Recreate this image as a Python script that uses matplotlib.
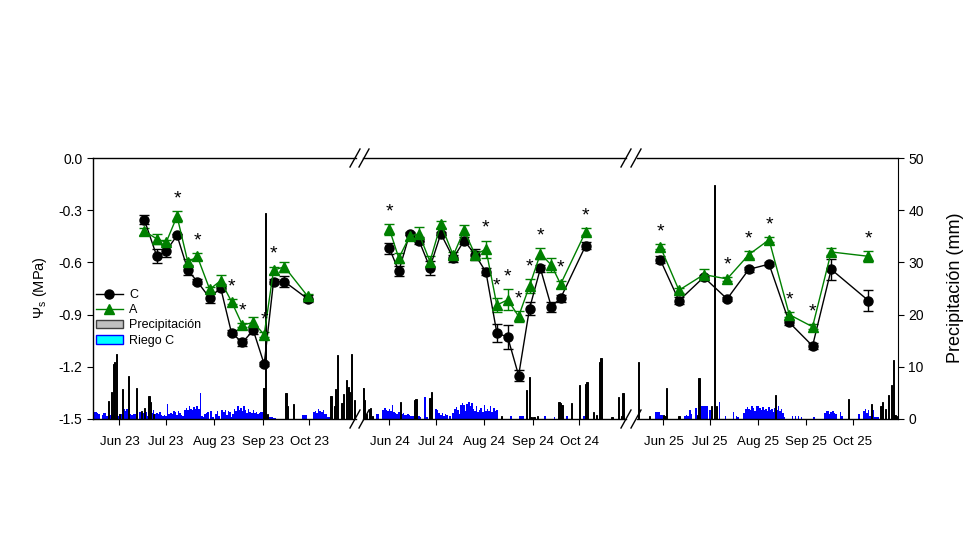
import numpy as np
import pandas as pd
import matplotlib
matplotlib.use("Agg")
import matplotlib.pyplot as plt
import matplotlib.dates as mdates
from matplotlib.lines import Line2D
from matplotlib.patches import Patch

plt.rcParams['font.family'] = ['Liberation Sans', 'DejaVu Sans']
plt.rcParams['axes.unicode_minus'] = False

# ---------------- data ----------------
# Psi_s sampling dates and values, C = control, A = treatment
dates23 = ['2023-06-17', '2023-06-25', '2023-07-01', '2023-07-08', '2023-07-15',
           '2023-07-21', '2023-07-29', '2023-08-05', '2023-08-12', '2023-08-19',
           '2023-08-26', '2023-09-02', '2023-09-08', '2023-09-15', '2023-09-30']
C23 = [-0.355, -0.565, -0.535, -0.445, -0.645, -0.71, -0.805, -0.745, -1.005, -1.06,
       -0.99, -1.185, -0.71, -0.71, -0.81]
eC23 = [0.025, 0.04, 0.035, 0.01, 0.03, 0.015, 0.03, 0.02, 0.015, 0.02,
        0.02, 0.01, 0.015, 0.03, 0.02]
A23 = [-0.42, -0.465, -0.485, -0.335, -0.60, -0.565, -0.755, -0.705, -0.825, -0.96,
       -0.945, -1.015, -0.645, -0.625, -0.795]
eA23 = [0.02, 0.03, 0.015, 0.03, 0.02, 0.02, 0.015, 0.03, 0.015, 0.01,
        0.03, 0.015, 0.02, 0.03, 0.015]
stars23 = [3, 5, 8, 9, 11, 12]

dates24 = ['2024-06-01', '2024-06-07', '2024-06-14', '2024-06-20', '2024-06-27',
           '2024-07-04', '2024-07-12', '2024-07-19', '2024-07-26', '2024-08-02',
           '2024-08-09', '2024-08-16', '2024-08-23', '2024-08-30', '2024-09-06',
           '2024-09-13', '2024-09-19', '2024-10-05']
C24 = [-0.52, -0.65, -0.435, -0.475, -0.63, -0.435, -0.575, -0.475, -0.555, -0.655,
       -1.005, -1.03, -1.25, -0.865, -0.635, -0.855, -0.805, -0.505]
eC24 = [0.03, 0.03, 0.01, 0.02, 0.04, 0.01, 0.02, 0.02, 0.03, 0.02,
        0.05, 0.07, 0.03, 0.04, 0.02, 0.03, 0.02, 0.02]
A24 = [-0.41, -0.575, -0.45, -0.435, -0.595, -0.38, -0.56, -0.415, -0.555, -0.525,
       -0.845, -0.815, -0.91, -0.735, -0.55, -0.615, -0.725, -0.425]
eA24 = [0.03, 0.03, 0.02, 0.04, 0.03, 0.02, 0.02, 0.03, 0.02, 0.05,
        0.04, 0.06, 0.03, 0.04, 0.03, 0.04, 0.02, 0.02]
stars24 = [0, 9, 10, 11, 12, 13, 14, 16, 17]

dates25 = ['2025-05-30', '2025-06-11', '2025-06-27', '2025-07-12', '2025-07-26',
           '2025-08-08', '2025-08-21', '2025-09-05', '2025-09-17', '2025-10-11']
C25 = [-0.585, -0.82, -0.685, -0.81, -0.64, -0.61, -0.945, -1.08, -0.64, -0.82]
eC25 = [0.02, 0.02, 0.015, 0.01, 0.015, 0.01, 0.015, 0.015, 0.06, 0.06]
A25 = [-0.51, -0.76, -0.67, -0.695, -0.555, -0.47, -0.90, -0.97, -0.54, -0.565]
eA25 = [0.015, 0.015, 0.03, 0.01, 0.02, 0.015, 0.015, 0.015, 0.02, 0.03]
stars25 = [0, 3, 4, 5, 6, 7, 9]

# precipitation (mm), days counted from 15 May
rain23_day = [10, 12, 13, 14, 15, 17, 19, 23, 28, 31, 33, 36, 37, 39, 110, 111, 112,
              124, 125, 129, 153, 155, 156, 157, 160, 161, 163, 164, 165, 166, 168]
rain23_mm = [3.4, 5.2, 10.5, 11.0, 12.4, 1.0, 5.8, 8.2, 6.0, 1.5, 2.2, 4.4, 3.3, 1.0, 5.9, 39.4, 1.0,
             5.0, 2.5, 2.8, 4.4, 2.5, 5.7, 12.3, 3.0, 4.7, 7.5, 6.2, 5.2, 12.4, 3.6]
rain24_day = [0, 1, 2, 4, 5, 6, 24, 33, 34, 43, 44, 89, 105, 107, 108, 110, 112, 126, 127,
              128, 134, 139, 143, 144, 148, 150, 152, 153, 160, 164, 166, 167]
rain24_mm = [6.0, 3.6, 1.0, 2.0, 2.2, 0.5, 3.2, 3.6, 3.8, 4.0, 5.2, 0.5, 5.6, 8.1, 0.3, 0.4, 0.5, 3.2, 3.0,
             2.7, 3.0, 6.5, 6.8, 7.0, 1.4, 0.8, 11.0, 11.7, 0.3, 4.3, 0.5, 5.0]
rain25_day = [1, 8, 17, 18, 19, 27, 39, 40, 48, 50, 51, 89, 136, 151, 157, 158, 160, 162,
              164, 165, 166, 167]
rain25_mm = [11.0, 0.6, 0.8, 0.6, 5.9, 0.5, 0.8, 7.9, 2.4, 44.8, 2.5, 4.6, 3.8, 2.8, 2.4, 3.3, 2.0, 4.6,
             6.5, 11.3, 0.8, 0.5]

# irrigation of C (mm/day), daily from 15 May
riego23 = [1.4, 1.4, 1.4, 1.2, 1.0, 0, 0.8, 1.2, 1.2, 0.5,
           0.8, 0.8, 0.6, 0.8, 0, 0, 0.5, 1.0, 1.0, 0.8,
           2.0, 1.5, 2.0, 1.0, 1.0, 0.8, 1.0, 1.0, 0.5, 0,
           1.4, 1.4, 1.2, 1.6, 1.4, 0.5, 1.0, 1.4, 1.2, 1.7,
           1.0, 1.2, 1.0, 1.4, 0.8, 0.5, 0.8, 0.6, 2.9, 1.0,
           1.2, 1.0, 1.5, 1.4, 0.8, 1.5, 1.2, 0.8, 0.6, 1.7,
           2.2, 1.8, 2.4, 2.0, 1.7, 2.3, 1.9, 2.4, 2.0, 4.9,
           0.5, 0.3, 1.0, 1.2, 1.4, 0, 1.5, 0.3, 0, 1.0,
           1.5, 0.6, 0, 1.7, 1.4, 1.7, 0.8, 1.5, 1.4, 0.4,
           1.0, 2.0, 1.5, 2.5, 1.8, 2.2, 1.6, 2.4, 1.7, 1.2,
           2.0, 1.4, 1.2, 1.8, 1.2, 1.4, 1.0, 1.2, 1.4, 1.3,
           0, 0, 0.4, 0.4, 0.3, 0.3, 0.2, 0.2, 0, 0,
           0, 0, 0, 0, 0, 0, 0, 0, 0, 0,
           0, 0, 0, 0, 0, 0.8, 0.8, 0.8, 0, 0,
           0, 0, 1.4, 1.6, 1.2, 1.9, 1.5, 1.4, 1.8, 1.0,
           1.0, 0.3, 0.3, 0.3, 0.3, 0, 0, 0, 0, 0,
           0, 0, 0, 0, 0, 0, 0, 0, 0]
riego24 = [0, 0, 0, 0, 0, 0, 0, 0, 0, 1.0,
           1.0, 0, 0, 1.8, 2.1, 1.7, 1.5, 2.0, 1.6, 2.7,
           1.4, 1.2, 1.0, 1.3, 1.1, 1.0, 1.2, 0.8, 0.8, 1.0,
           0.8, 0.6, 0.5, 0.6, 0.4, 0.6, 0.5, 0.4, 0, 0,
           4.3, 0.3, 0, 0, 0.5, 0, 0, 1.9, 1.7, 1.2,
           0.8, 1.1, 0.6, 1.0, 0.8, 0, 0.6, 0, 1.2, 2.0,
           2.3, 1.8, 1.0, 2.7, 3.0, 2.6, 1.5, 2.9, 3.2, 2.4,
           3.0, 2.0, 1.6, 2.4, 1.4, 1.8, 2.2, 1.4, 2.6, 1.6,
           2.0, 1.5, 2.4, 1.4, 2.1, 1.6, 1.8, 0, 0, 0,
           0, 0, 0, 0, 0, 0.5, 0, 0, 0, 0,
           0, 0.6, 0.6, 0.5, 0, 0, 0, 0, 0, 0,
           0, 0, 0, 0, 0, 0, 0, 0.5, 0, 0,
           0, 0, 0, 0.4, 0, 0, 0, 0, 0, 0,
           0, 0.5, 0, 0, 0, 0, 0, 0, 0, 0,
           0, 0, 0.5, 0, 0, 0, 0, 0, 0, 0,
           0, 0, 0, 0, 0.4, 0, 0, 0, 0, 0,
           0, 0, 0, 0, 0, 0, 0, 0, 0]
riego25 = [0, 0, 0, 0, 0, 0, 0, 0, 0, 0,
           0, 0, 1.4, 1.3, 1.4, 0.8, 0.8, 0.5, 0, 0,
           0, 0, 0, 0, 0, 0, 0, 0, 0, 0,
           0, 0.5, 0.8, 0.6, 1.7, 1.0, 0, 0, 2.2, 0.5,
           0, 0, 2.5, 2.5, 2.4, 2.5, 0, 1.7, 0.5, 0,
           0, 0, 0, 3.3, 0, 0, 0, 0.6, 0, 0,
           0, 0, 1.4, 0, 0.6, 0.3, 0, 0, 0, 1.2,
           2.0, 2.3, 2.0, 1.8, 2.4, 2.2, 1.6, 2.4, 2.5, 2.2,
           1.8, 2.3, 1.7, 2.0, 1.5, 2.3, 1.8, 2.0, 1.4, 2.2,
           1.8, 2.4, 1.6, 2.0, 1.2, 0.4, 0, 0, 0, 0,
           0.5, 0, 0.5, 0, 0.5, 0, 0.4, 0, 0, 0,
           0, 0, 0, 0, 0.3, 0, 0, 0, 0, 0,
           0, 1.2, 1.5, 1.6, 1.0, 1.4, 1.6, 1.2, 1.0, 0,
           0, 1.3, 0.6, 0, 0, 0, 0, 0, 0, 0,
           0, 0, 0, 0.9, 0, 0, 1.6, 2.0, 1.2, 1.8,
           0.6, 0, 1.7, 0.3, 0.3, 0.3, 0, 0, 0, 0,
           0, 0, 0, 0, 0, 0, 0, 0, 0]

green = '#008000'
W, H = 980, 560
Y0, Y1 = 158, 419  # pixel rows of the plot top / bottom

segments = [
    dict(x0=93, x1=356, start='2023-05-15', end='2023-10-31', dates=dates23, C=C23, eC=eC23,
         A=A23, eA=eA23, stars=stars23, rday=rain23_day, rmm=rain23_mm, riego=riego23),
    dict(x0=363, x1=626, start='2024-05-15', end='2024-10-31', dates=dates24, C=C24, eC=eC24,
         A=A24, eA=eA24, stars=stars24, rday=rain24_day, rmm=rain24_mm, riego=riego24),
    dict(x0=637, x1=898, start='2025-05-15', end='2025-10-30', dates=dates25, C=C25, eC=eC25,
         A=A25, eA=eA25, stars=stars25, rday=rain25_day, rmm=rain25_mm, riego=riego25),
]

fig = plt.figure(figsize=(9.8, 5.6), dpi=100)

axes = []
for i, s in enumerate(segments):
    ax = fig.add_axes([s['x0'] / W, 1 - Y1 / H, (s['x1'] - s['x0']) / W, (Y1 - Y0) / H])
    tw = ax.twinx()
    ax.set_zorder(tw.get_zorder() + 1)
    ax.patch.set_visible(False)

    start = pd.Timestamp(s['start'])
    # irrigation and rain bars on the mm scale
    rx = start + pd.to_timedelta(np.arange(len(s['riego'])), unit='D')
    tw.bar(rx, s['riego'], width=1.0, color='#0000FF', linewidth=0)
    px = start + pd.to_timedelta(np.array(s['rday']), unit='D')
    tw.bar(px, s['rmm'], width=0.9, color='black', edgecolor='black', linewidth=0.7)
    tw.set_ylim(0, 50)

    d = pd.to_datetime(s['dates'])
    ax.errorbar(d, s['C'], yerr=s['eC'], fmt='-o', color='black', ms=6.5, lw=1,
                elinewidth=1, capsize=3.5, capthick=1, label='C')
    ax.errorbar(d, s['A'], yerr=s['eA'], fmt='-^', color=green, ms=7, lw=1,
                elinewidth=1, capsize=3.5, capthick=1, label='A')
    C = np.array(s['C']) + np.array(s['eC'])
    A = np.array(s['A']) + np.array(s['eA'])
    for k in s['stars']:
        ax.text(d[k], max(C[k], A[k]) + 0.045, '*', ha='center', va='baseline', fontsize=14)

    ax.set_xlim(start, pd.Timestamp(s['end']))
    ax.set_ylim(-1.5, 0)
    ax.xaxis.set_major_locator(mdates.MonthLocator(bymonth=range(6, 11)))
    ax.xaxis.set_major_formatter(mdates.DateFormatter('%b %y'))
    ax.tick_params(axis='x', direction='out', length=4, labelsize=9.5, pad=8)

    for sp in ['top', 'bottom', 'left', 'right']:
        tw.spines[sp].set_visible(False)
    ax.spines['right'].set_visible(False)
    if i == 0:
        ax.set_yticks(np.arange(-1.5, 0.01, 0.3))
        ax.yaxis.set_major_formatter(plt.FormatStrFormatter('%.1f'))
        ax.tick_params(axis='y', direction='out', length=4, labelsize=10)
    else:
        ax.spines['left'].set_visible(False)
        ax.tick_params(axis='y', left=False, labelleft=False)
    if i == 2:
        tw.spines['right'].set_visible(True)
        tw.set_yticks(range(0, 51, 10))
        tw.tick_params(axis='y', direction='out', length=4, labelsize=10)
    else:
        tw.tick_params(axis='y', right=False, labelright=False)
    for sp in ax.spines.values():
        sp.set_linewidth(1)
    axes.append(ax)

# axis break marks
for x in [355, 364, 626, 636]:
    for y in [Y0, Y1]:
        fig.add_artist(Line2D([(x - 5) / W, (x + 5) / W], [1 - (y + 9) / H, 1 - (y - 9) / H],
                              color='black', lw=1))

handles = [
    Line2D([], [], color='black', marker='o', ms=6.5, lw=1, label='C'),
    Line2D([], [], color=green, marker='^', ms=7, lw=1, label='A'),
    Patch(facecolor='#C0C0C0', edgecolor='#404040', label='Precipitación'),
    Patch(facecolor='#00FFFF', edgecolor='#0000FF', label='Riego C'),
]
axes[0].legend(handles=handles, loc='upper left', bbox_to_anchor=(0.0, 0.507), frameon=False,
               fontsize=9, handlelength=2.2, labelspacing=0.25, borderaxespad=0, borderpad=0.2,
               handletextpad=0.5)

fig.text(40 / W, 1 - 288 / H, 'Ψ$_\\mathregular{s}$ (MPa)', rotation=90, ha='center', va='center',
         fontsize=10.5)
fig.text(955 / W, 1 - 288 / H, 'Precipitación (mm)', rotation=90, ha='center', va='center',
         fontsize=13)

fig.savefig('out.png', dpi=100)
